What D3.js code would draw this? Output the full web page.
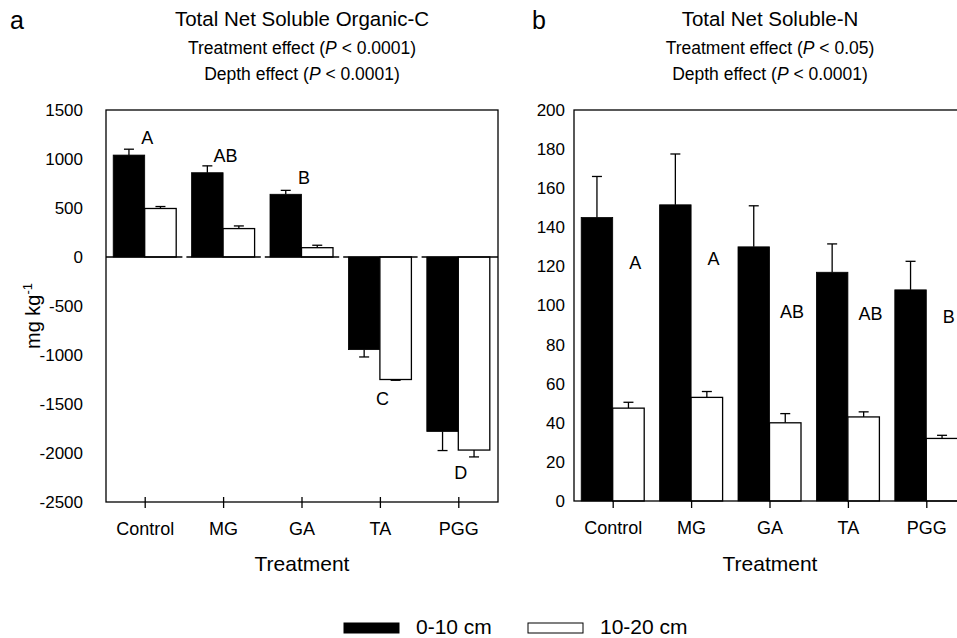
<!DOCTYPE html>
<html>
<head>
<meta charset="utf-8">
<script src="https://cdn.jsdelivr.net/npm/d3@7"></script>
<style>
  body { margin: 0; background: #fff; }
  text { font-family: "Liberation Sans", Arial, sans-serif; fill: #000; }
</style>
</head>
<body>
<script>
const categories = ['Control', 'MG', 'GA', 'TA', 'PGG'];
const depths = ['0-10 cm', '10-20 cm'];

// panel a: total net soluble organic C (mg/kg)
const carbonTop = [1040, 860, 640, -945, -1780];
const carbonTopErr = [60, 70, 40, 75, 195];
const carbonSub = [495, 290, 95, -1250, -1970];
const carbonSubErr = [20, 27, 25, 8, 70];
const carbonTicks = [1500, 1000, 500, 0, -500, -1000, -1500, -2000, -2500];
const carbonLetters = ['A', 'AB', 'B', 'C', 'D'];
const carbonLetterAt = [1215, 1035, 816, -1441, -2204];

// panel b: total net soluble N (mg/kg)
const nitroTop = [145, 151.5, 130, 117, 108];
const nitroTopErr = [21, 26, 21, 14.5, 14.6];
const nitroSub = [47.5, 53, 40, 43, 32];
const nitroSubErr = [3, 3, 4.7, 2.6, 1.6];
const nitroTicks = [200, 180, 160, 140, 120, 100, 80, 60, 40, 20, 0];
const nitroLetters = ['A', 'A', 'AB', 'AB', 'B'];
const nitroLetterAt = [122, 124, 97, 96, 94.6];

const width = 957, height = 638;
const svg = d3.select('body').append('svg')
    .attr('width', width)
    .attr('height', height);

function panel(opt) {
    const x = d3.scaleBand()
        .domain(categories)
        .range([opt.left, opt.left + 392])
        .padding(0);
    const inner = d3.scaleBand()
        .domain(depths)
        .range([x.bandwidth() / 2 - 32, x.bandwidth() / 2 + 31]);
    const y = d3.scaleLinear()
        .domain(opt.domain)
        .range([opt.bottom, 110]);

    const g = svg.append('g');

    // titles
    const cx = opt.left + 196;
    g.append('text').attr('x', opt.letterX).attr('y', 29)
        .style('font-size', '25px').text(opt.letter);
    opt.titles.forEach((t, i) => {
        const tx = g.append('text')
            .attr('x', cx).attr('y', [26, 54, 80][i])
            .attr('text-anchor', 'middle')
            .style('font-size', i === 0 ? '20.5px' : '17.5px');
        if (i === 0) {
            tx.text(t);
        } else {
            tx.append('tspan').text(t[0]);
            tx.append('tspan').style('font-style', 'italic').text('P');
            tx.append('tspan').text(t[1]);
        }
    });

    const rows = categories.map((c, i) => ({
        cat: c,
        vals: [
            { depth: depths[0], v: opt.top[i], e: opt.topErr[i] },
            { depth: depths[1], v: opt.sub[i], e: opt.subErr[i] }
        ]
    }));

    const groups = g.selectAll('.grp').data(rows).join('g')
        .attr('transform', d => `translate(${x(d.cat)},0)`);

    // error bars
    groups.selectAll('.err').data(d => d.vals).join('g').each(function (d) {
        const sel = d3.select(this);
        const xc = inner(d.depth) + inner.bandwidth() / 2;
        const end = d.v >= 0 ? d.v + d.e : d.v - d.e;
        sel.append('line')
            .attr('x1', xc).attr('x2', xc)
            .attr('y1', y(d.v)).attr('y2', y(end))
            .attr('stroke', '#000').attr('stroke-width', 1.3);
        sel.append('line')
            .attr('x1', xc - 5).attr('x2', xc + 5)
            .attr('y1', y(end)).attr('y2', y(end))
            .attr('stroke', '#000').attr('stroke-width', 1.3);
    });

    groups.selectAll('rect').data(d => d.vals).join('rect')
        .attr('x', d => inner(d.depth))
        .attr('width', inner.bandwidth())
        .attr('y', d => y(Math.max(0, d.v)))
        .attr('height', d => Math.abs(y(d.v) - y(0)))
        .attr('fill', d => d.depth === depths[0] ? '#000' : '#fff')
        .attr('stroke', '#000')
        .attr('stroke-width', d => d.depth === depths[0] ? 0.8 : 1.3);

    // zero line broken at band boundaries
    if (opt.zeroLine) {
        g.selectAll('.zero').data(categories).join('line')
            .attr('x1', (d, i) => i === 0 ? x(d) : x(d) + 2)
            .attr('x2', (d, i) => i === categories.length - 1 ? x(d) + x.bandwidth() : x(d) + x.bandwidth() - 2)
            .attr('y1', y(0)).attr('y2', y(0))
            .attr('stroke', '#000').attr('stroke-width', 1.3);
    }

    // frame
    g.append('rect')
        .attr('x', opt.left).attr('y', 110)
        .attr('width', 392).attr('height', opt.bottom - 110)
        .attr('fill', 'none').attr('stroke', '#000').attr('stroke-width', 1.3);

    // y axis labels (no tick marks)
    const yAxis = g.append('g')
        .attr('transform', `translate(${opt.left},0)`)
        .call(d3.axisLeft(y).tickValues(opt.ticks).tickSize(0).tickPadding(opt.yPad).tickFormat(d => String(d)));
    yAxis.select('.domain').remove();
    yAxis.selectAll('text')
        .style('font-size', '17px')
        .style('font-family', '"Liberation Sans", Arial, sans-serif')
        .attr('fill', '#000');

    // x axis
    const xAxis = g.append('g')
        .attr('transform', `translate(0,${opt.bottom})`)
        .call(d3.axisBottom(x).tickSize(opt.tickIn + opt.tickOut));
    xAxis.select('.domain').remove();
    xAxis.selectAll('.tick line')
        .attr('y1', -opt.tickIn)
        .attr('y2', opt.tickOut)
        .attr('stroke', '#000').attr('stroke-width', 1.3);
    xAxis.selectAll('.tick text')
        .attr('y', 33).attr('dy', 0)
        .style('font-size', '18px')
        .style('font-family', '"Liberation Sans", Arial, sans-serif')
        .attr('fill', '#000');

    g.append('text')
        .attr('x', cx).attr('y', 571)
        .attr('text-anchor', 'middle')
        .style('font-size', '21px')
        .text('Treatment');

    // significance letters
    g.selectAll('.sig').data(categories).join('text')
        .attr('x', (d, i) => x(d) + x.bandwidth() / 2 + opt.sigDx)
        .attr('y', (d, i) => y(opt.letterAt[i]))
        .attr('dy', '0.36em')
        .attr('text-anchor', 'middle')
        .style('font-size', '18px')
        .text((d, i) => opt.letters[i]);

    return { x, y };
}

panel({
    left: 106, bottom: 502, domain: [-2500, 1500], ticks: carbonTicks, yPad: 23,
    top: carbonTop, topErr: carbonTopErr, sub: carbonSub, subErr: carbonSubErr,
    letters: carbonLetters, letterAt: carbonLetterAt, sigDx: 2,
    letter: 'a', letterX: 10,
    titles: ['Total Net Soluble Organic-C', ['Treatment effect (', ' < 0.0001)'], ['Depth effect (', ' < 0.0001)']],
    zeroLine: true, tickIn: 5, tickOut: 6
});

panel({
    left: 574, bottom: 501, domain: [0, 200], ticks: nitroTicks, yPad: 9,
    top: nitroTop, topErr: nitroTopErr, sub: nitroSub, subErr: nitroSubErr,
    letters: nitroLetters, letterAt: nitroLetterAt, sigDx: 22,
    letter: 'b', letterX: 532,
    titles: ['Total Net Soluble-N', ['Treatment effect (', ' < 0.05)'], ['Depth effect (', ' < 0.0001)']],
    zeroLine: false, tickIn: 0, tickOut: 7
});

// y axis title
const yt = svg.append('text')
    .attr('transform', 'translate(40,316) rotate(-90)')
    .attr('text-anchor', 'middle')
    .style('font-size', '20px');
yt.append('tspan').text('mg kg');
yt.append('tspan').attr('dy', -8).style('font-size', '13px').text('-1');

// legend
const legend = svg.append('g');
const legendX = d3.scaleOrdinal().domain(depths).range([344, 528]);
legend.selectAll('rect').data(depths).join('rect')
    .attr('x', d => legendX(d))
    .attr('y', 623)
    .attr('width', 55).attr('height', 10)
    .attr('fill', (d, i) => i === 0 ? '#000' : '#fff')
    .attr('stroke', '#000').attr('stroke-width', 1);
legend.selectAll('text').data(depths).join('text')
    .attr('x', d => legendX(d) + 72)
    .attr('y', 634)
    .style('font-size', '21px')
    .text(d => d);
</script>
</body>
</html>
